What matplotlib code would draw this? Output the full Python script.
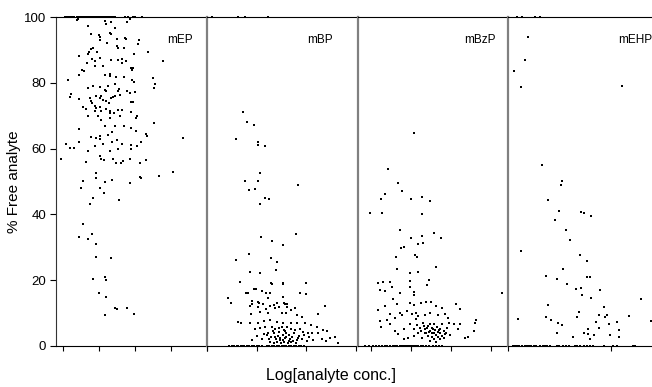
import numpy as np
import matplotlib
matplotlib.use("Agg")
import matplotlib.pyplot as plt

plt.rcParams["font.family"] = ["Liberation Sans", "DejaVu Sans"]

# ── data: (log conc, % free) ──────────────────────────────────────────────
mep_pts = [
    (.39, 99.0), (.43, 99.4), (1.16, 98.7), (1.19, 98.0), (1.34, 98.4), (1.46, 96.7),
    (1.78, 98.5), (1.87, 99.4), (.69, 97.4), (.79, 94.9), (1.0, 94.5), (1.02, 93.8),
    (1.02, 93.1), (1.30, 95.1), (1.35, 94.7), (1.51, 93.3), (1.72, 93.7), (1.76, 93.3),
    (2.08, 91.9), (2.11, 92.9), (2.36, 89.3), (2.78, 86.7), (1.22, 92.1), (.44, 88.1),
    (.69, 88.9), (.72, 89.3), (.79, 90.3), (.83, 90.6), (.94, 89.3), (.67, 86.0),
    (.81, 87.2), (.88, 86.5), (1.02, 87.6), (1.11, 85.0), (1.34, 87.0), (1.5, 91.1),
    (1.52, 90.6), (1.69, 90.6), (1.52, 86.8), (1.63, 87.2), (1.65, 86.0), (1.76, 86.5),
    (1.97, 88.9), (1.88, 84.5), (1.93, 84.0), (1.96, 84.5), (.54, 84.0), (.58, 83.5),
    (.44, 82.5), (.14, 81.0), (.90, 85.0), (1.30, 82.8), (1.16, 82.5), (1.3, 82.0),
    (1.48, 81.8), (1.71, 81.8), (1.93, 80.8), (1.98, 80.2), (2.5, 81.5), (2.56, 79.5),
    (2.52, 78.4), (.23, 76.7), (.2, 75.7), (.46, 75.2), (.69, 78.3), (.85, 79.0),
    (1.02, 78.7), (1.16, 77.9), (1.19, 77.4), (1.25, 79.1), (1.46, 79.5), (1.52, 77.4),
    (1.57, 78.1), (1.59, 76.4), (1.79, 77.4), (1.87, 76.9), (1.99, 77.1), (.74, 75.4),
    (.79, 74.4), (.81, 73.9), (.93, 75.9), (1.04, 75.4), (1.06, 76.1), (1.11, 74.9),
    (1.2, 74.6), (1.28, 73.9), (1.34, 75.4), (1.39, 75.6), (1.44, 75.9), (.56, 72.7),
    (.63, 72.1), (.69, 69.8), (.88, 72.9), (.93, 72.4), (1.02, 72.7), (1.06, 71.4),
    (.88, 71.4), (.97, 70.0), (1.19, 71.9), (1.3, 70.9), (1.32, 71.4), (1.41, 70.9),
    (1.52, 71.6), (1.59, 70.0), (1.65, 71.7), (1.88, 74.1), (1.94, 74.1), (1.9, 71.1),
    (2.07, 69.8), (2.04, 69.3), (1.06, 68.8), (1.3, 69.2), (1.16, 66.8), (1.44, 67.0),
    (1.69, 67.0), (1.9, 66.3), (2.04, 65.3), (2.3, 64.3), (2.33, 63.8), (2.52, 67.8),
    (3.33, 63.3), (.46, 66.0), (.46, 61.9), (.79, 63.6), (.93, 63.3), (1.02, 63.8),
    (1.04, 62.8), (1.11, 61.5), (1.25, 64.0), (1.37, 65.0), (1.3, 59.2), (1.37, 61.9),
    (1.5, 62.6), (1.52, 60.0), (1.65, 61.5), (1.9, 61.2), (1.9, 60.0), (2.05, 60.9),
    (2.17, 61.9), (.09, 61.5), (.19, 60.2), (.32, 60.2), (-.06, 56.9), (.69, 59.2),
    (.88, 60.7), (1.02, 57.7), (1.06, 56.9), (1.14, 56.5), (1.39, 56.9), (1.48, 55.5),
    (1.62, 55.5), (1.68, 56.2), (1.85, 56.9), (2.13, 55.7), (2.31, 56.5), (.63, 56.0),
    (2.13, 51.4), (2.18, 51.1), (2.67, 51.6), (3.07, 52.9), (1.87, 49.6), (1.37, 50.4),
    (1.16, 49.8), (.91, 52.6), (.93, 51.1), (.56, 50.3), (.51, 47.9), (1.04, 48.0),
    (1.14, 46.6), (.85, 45.0), (.74, 43.3), (1.57, 44.3), (.57, 37.2), (.44, 33.2),
    (.69, 32.6), (.81, 33.9), (.91, 31.1), (.93, 27.0), (1.34, 26.6), (.85, 20.5),
    (1.17, 21.0), (1.19, 20.2), (1.0, 16.2), (1.19, 15.0), (1.44, 11.6), (1.5, 11.3),
    (1.78, 11.4), (1.97, 9.6), (1.17, 9.3),
]
mep_top = [.05, .1, .15, .2, .25, .3, .38, .45, .5, .55, .6, .65, .7, .75, .8, .85,
           .9, .95, 1.0, 1.05, 1.1, 1.15, 1.2, 1.25, 1.3, 1.35, 1.4, 1.44, 1.72,
           1.8, 1.95, 2.0, 2.2]
mep_zero = []

mbp_pts = [
    (.73, 71.1), (.81, 68.0), (.95, 67.2), (.59, 62.8), (1.03, 62.0), (1.03, 61.2),
    (1.16, 60.7), (1.07, 52.7), (.77, 50.2), (1.03, 50.2), (.85, 47.4), (.97, 47.6),
    (1.16, 45.0), (1.25, 44.7), (1.06, 43.3), (1.83, 49.0), (1.80, 34.0), (1.09, 33.2),
    (1.30, 32.0), (1.53, 30.7), (.85, 28.1), (.58, 26.0), (1.29, 26.8), (1.41, 25.5),
    (1.38, 23.1), (.87, 22.4), (1.07, 22.1), (.66, 19.4), (1.28, 19.0), (1.3, 18.7),
    (1.52, 18.9), (1.54, 19.1), (2.0, 19.2), (.79, 16.2), (.83, 16.1), (.95, 17.2),
    (.98, 17.2), (1.11, 16.6), (1.19, 16.2), (1.26, 16.0), (1.87, 16.0), (1.99, 15.7),
    (.43, 14.7), (.48, 13.2), (.91, 13.7), (1.04, 13.1), (1.22, 14.7), (1.40, 13.0),
    (1.56, 13.2), (1.61, 12.9), (2.37, 12.3), (.87, 12.1), (1.52, 15.0),
    (.91, 12.9), (1.03, 13.5), (1.13, 12.8), (1.34, 12.4), (1.44, 12.0), (.87, 12.2),
    (1.02, 11.8), (1.19, 11.1), (1.27, 12.2), (1.37, 11.4), (1.57, 12.8), (1.62, 12.0),
    (1.69, 10.9), (1.77, 11.4), (.89, 9.7), (1.07, 10.4), (1.23, 10.1), (1.5, 9.9),
    (1.6, 9.9), (1.81, 9.4), (1.91, 8.9), (2.24, 9.7), (.62, 7.4), (.68, 6.9),
    (.87, 7.1), (1.03, 6.9), (1.15, 7.7), (1.27, 7.9), (1.40, 7.4), (1.54, 7.1),
    (1.70, 6.9), (1.81, 7.1), (1.97, 6.9), (2.09, 6.4), (2.21, 5.7), (2.34, 4.9),
    (2.41, 4.7), (.97, 5.1), (1.07, 5.4), (1.17, 5.9), (1.30, 5.9), (1.37, 5.1),
    (1.45, 5.4), (1.56, 4.9), (1.62, 5.7), (1.69, 5.1), (1.77, 4.9), (1.87, 5.1),
    (1.94, 4.4), (2.04, 4.1), (2.11, 3.9), (2.23, 4.1), (2.31, 2.0), (2.39, 1.6),
    (2.48, 2.3), (2.58, 2.6), (2.63, 1.0), (.90, 1.8), (1.0, 3.0), (1.1, 2.0),
    (1.2, 3.3), (1.29, 2.6), (1.34, 3.9), (1.38, 2.0), (1.42, 3.0), (1.47, 1.8),
    (1.52, 3.3), (1.57, 2.3), (1.6, 3.9), (1.65, 1.6), (1.72, 2.8), (1.76, 4.1),
    (1.81, 1.8), (1.85, 3.0), (1.91, 2.0), (1.96, 3.3), (2.01, 1.6), (2.05, 2.6),
    (2.14, 1.8), (1.27, 1.3), (1.34, 1.0), (1.40, 1.3), (1.49, 1.0), (1.56, 1.3),
    (1.64, 0.8), (1.70, 1.2), (1.79, 0.8), (1.6, 2.8), (1.44, 4.4), (1.5, 5.9),
    (1.32, 4.6), (1.23, 3.9), (1.46, 2.4), (1.54, 1.9), (1.66, 3.4), (1.74, 1.5),
    (1.36, 2.7), (1.58, 4.6), (1.68, 2.2), (1.83, 2.5), (1.25, 2.2), (1.15, 3.5),
]
mbp_top = [.11, .62, .77, 1.22]
mbp_zero = [.45, .5, .55, .6, .62, .68, .72, .75, .8, .85, .9, .95, 1.0, 1.05, 1.1,
            1.2, 1.25, 1.3, 1.35, 1.4, 1.45, 1.5, 1.55, 1.6, 1.65, 1.7, 1.75, 1.8,
            1.85, 1.9, 1.95]

mbzp_pts = [
    (1.07, 64.8), (.42, 53.8), (.69, 49.4), (.78, 47.2), (.36, 46.3), (.25, 44.7),
    (1.01, 44.7), (1.28, 45.4), (1.48, 44.1), (-.02, 40.5), (.27, 40.4), (1.29, 40.0),
    (.72, 35.4), (1.0, 32.8), (1.28, 33.4), (1.59, 34.4), (1.75, 32.8), (.75, 29.8),
    (.83, 30.0), (1.18, 31.0), (1.3, 31.3), (1.1, 27.7), (1.15, 27.0), (.63, 27.0),
    (1.64, 24.0), (.65, 23.5), (.98, 22.1), (1.18, 22.5), (1.45, 20.0), (1.4, 18.4),
    (.18, 19.0), (.3, 19.4), (.48, 19.4), (.98, 19.7), (.98, 18.0), (.23, 17.0),
    (.35, 16.6), (.52, 18.0), (.73, 16.2), (1.07, 16.4), (1.08, 15.6), (.55, 14.2),
    (3.28, 16.2), (.19, 10.9), (.36, 12.3), (.65, 12.7), (.98, 13.1), (1.08, 12.6),
    (1.25, 13.1), (1.38, 13.4), (1.51, 13.4), (1.63, 12.3), (1.78, 11.6), (2.12, 12.9),
    (2.23, 11.1), (.22, 7.6), (.4, 7.9), (.48, 9.6), (.61, 8.6), (.73, 10.1),
    (.78, 9.3), (.9, 10.6), (1.03, 9.6), (1.13, 10.1), (1.19, 9.1), (1.36, 9.3),
    (1.48, 9.9), (1.67, 9.3), (1.86, 9.6), (1.92, 8.6), (2.62, 7.9), (.26, 5.8),
    (.47, 6.6), (.61, 4.6), (.82, 5.3), (.98, 6.6), (1.07, 5.1), (1.15, 6.3),
    (1.23, 5.6), (1.3, 6.9), (1.36, 5.1), (1.42, 6.1), (1.48, 4.6), (1.52, 5.6),
    (1.57, 6.6), (1.61, 4.9), (1.65, 5.9), (1.69, 4.3), (1.73, 5.3), (1.78, 6.6),
    (1.82, 4.5), (1.86, 3.5), (1.9, 5.6), (1.97, 3.2), (2.07, 6.6), (2.19, 5.3),
    (2.23, 6.6), (2.36, 2.5), (2.42, 2.8), (2.58, 4.6), (2.6, 6.9), (.92, 2.5),
    (1.07, 3.0), (1.19, 3.8), (1.28, 2.5), (1.38, 4.0), (1.44, 3.0), (1.53, 3.8),
    (1.58, 2.0), (1.67, 2.8), (1.73, 2.0), (1.82, 2.5), (1.48, 1.5), (1.63, 1.2),
    (.69, 3.5), (.82, 2.0), (1.4, 5.6), (1.48, 6.6), (1.55, 5.1), (1.58, 4.0),
    (1.35, 3.8), (1.25, 4.6), (1.72, 3.8), (1.78, 3.0), (1.88, 4.0), (1.46, 4.4),
    (1.62, 3.4), (1.54, 2.6), (1.7, 4.8), (1.33, 6.0), (1.12, 8.2), (1.95, 7.0),
]
mbzp_top = []
mbzp_zero = [-.14, -.05, .05, .12, .2, .28, .35, .4, .48, .55, .6, .65, .72, .78,
             .82, .88, .92, .98, 1.02, 1.08, 1.12, 1.18, 1.25, 1.3, 1.38, 1.45, 1.55,
             1.62, 1.7, 1.78]

mehp_pts = [
    (.19, 93.9), (.16, 86.8), (.06, 83.7), (.13, 78.7), (1.10, 78.9), (.33, 54.9),
    (.52, 50.3), (.51, 48.8), (.39, 44.3), (.49, 41.0), (.71, 40.8), (.73, 40.3),
    (.8, 39.5), (.45, 38.3), (.56, 35.4), (.60, 32.1), (.13, 28.8), (.70, 27.8),
    (.76, 25.8), (.53, 23.3), (.37, 21.3), (.47, 20.3), (.76, 21.1), (.79, 21.1),
    (.57, 18.7), (.71, 17.7), (.66, 17.4), (.72, 15.4), (.89, 17.0), (.80, 14.5),
    (1.29, 14.2), (.39, 12.4), (.93, 12.0), (.69, 10.4), (.10, 8.1), (.37, 8.7),
    (.42, 7.8), (.67, 8.7), (.88, 9.4), (.94, 8.9), (.96, 9.3), (1.17, 9.1),
    (1.38, 7.5), (.85, 7.4), (.48, 6.9), (.52, 6.4), (.98, 6.6), (1.05, 7.4),
    (.47, 3.8), (.77, 5.3), (.88, 5.6), (.73, 3.8), (.77, 3.6), (.83, 3.3),
    (.99, 3.4), (1.07, 4.8), (1.07, 2.8), (.63, 2.6), (.79, 2.0),
]
mehp_top = [.09, .14, .26, .31]
mehp_zero = [.05, .07, .09, .11, .14, .16, .18, .2, .22, .25, .27, .31, .34, .36,
             .38, .41, .47, .49, .53, .56, .59, .65, .67, .70, .73, .76, .79, .82,
             .93, 1.02, 1.05, 1.21, 1.23]

panel_names = ["mEP", "mBP", "mBzP", "mEHP"]
panel_xlims = [(-0.19, 4.0), (0.0, 3.04), (-0.32, 3.43), (0.0, 1.46)]
panel_xticks = [[0, 1, 2, 3, 4], [0, 1, 2, 3], [0, 1, 2, 3], [0, 1]]
y_ticks = [0, 20, 40, 60, 80, 100]

series = [
    (mep_pts, mep_top, mep_zero),
    (mbp_pts, mbp_top, mbp_zero),
    (mbzp_pts, mbzp_top, mbzp_zero),
    (mehp_pts, mehp_top, mehp_zero),
]

# ── figure ────────────────────────────────────────────────────────────────
W, H = 652, 387
fig = plt.figure(figsize=(W / 100, H / 100), dpi=100)

edges = [56, 207, 358, 508, 659]
bottom, top = 346, 17
label_x = [0.82, 0.75, 0.81, 0.84]

for i in range(4):
    ax = fig.add_axes([edges[i] / W, 1 - bottom / H,
                       (edges[i + 1] - edges[i]) / W, (bottom - top) / H])
    pts, top_x, zero_x = series[i]
    xs = [p[0] for p in pts] + top_x + zero_x
    ys = [p[1] for p in pts] + [100] * len(top_x) + [0] * len(zero_x)
    ax.scatter(xs, ys, s=4.5, marker="s", color="black", linewidths=0,
               clip_on=False, zorder=3)

    ax.set_xlim(*panel_xlims[i])
    ax.set_ylim(0, 100)
    ax.set_xticks(panel_xticks[i])
    ax.set_xticklabels([])
    ax.tick_params(axis="x", direction="out", length=3.5, width=0.8, color="black")

    for side in ["top", "bottom"]:
        ax.spines[side].set_color("black")
        ax.spines[side].set_linewidth(0.8)
    ax.spines["right"].set_visible(False)

    if i == 0:
        ax.spines["left"].set_color("#333333")
        ax.spines["left"].set_linewidth(0.8)
        ax.set_yticks(y_ticks)
        ax.tick_params(axis="y", direction="out", length=4, width=0.8,
                       labelsize=9.5, pad=3)
        ax.set_ylabel("% Free analyte", fontsize=11, labelpad=2)
    else:
        ax.spines["left"].set_color("#808080")
        ax.spines["left"].set_linewidth(1.6)
        ax.set_yticks([])

    ax.text(label_x[i], 0.93, panel_names[i], transform=ax.transAxes,
            ha="center", va="center", fontsize=8.5)

fig.text(0.508, 0.03, "Log[analyte conc.]", ha="center", va="center", fontsize=11.5)

fig.savefig("out.png", dpi=100)
